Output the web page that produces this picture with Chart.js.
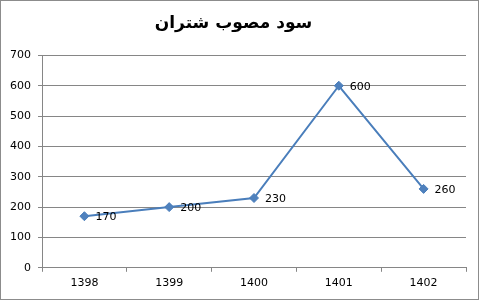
<!DOCTYPE html>
<html>
<head>
<meta charset="utf-8">
<script src="https://cdn.jsdelivr.net/npm/chart.js@4"></script>
<style>
  html, body { margin: 0; padding: 0; background: #fff; }
  #wrap { position: absolute; left: 0; top: 0; width: 477px; height: 298px; border: 1px solid #8c8c8c; }
</style>
</head>
<body>
<div id="wrap"><canvas id="lineChart" width="480" height="301"></canvas></div>
<script>
const years = ['1398', '1399', '1400', '1401', '1402'];
const profit = [170, 200, 230, 600, 260];
const chartTitle = 'سود مصوب شتران';

// Value labels drawn to the right of each point
const valueLabels = {
    id: 'valueLabels',
    afterDatasetsDraw(chart) {
        const ctx = chart.ctx;
        const meta = chart.getDatasetMeta(0);
        ctx.save();
        ctx.font = '11px "DejaVu Sans"';
        ctx.fillStyle = '#000';
        ctx.textAlign = 'left';
        ctx.textBaseline = 'middle';
        meta.data.forEach((pt, i) => {
            ctx.fillText(String(profit[i]), pt.x + 11, pt.y + 1);
        });
        ctx.restore();
    }
};

const ctx = document.getElementById('lineChart').getContext('2d');
const chart = new Chart(ctx, {
    type: 'line',
    data: {
        labels: years,
        datasets: [{
            data: profit,
            borderColor: '#4a7ebb',
            borderWidth: 2,
            backgroundColor: '#4f81bd',
            pointStyle: 'rectRot',
            pointRadius: 4.5,
            pointBorderWidth: 1,
            pointBorderColor: '#4a7ebb',
            tension: 0,
            fill: false
        }]
    },
    options: {
        responsive: false,
        animation: false,
        layout: { padding: { left: 0, right: 15, top: 0, bottom: 7 } },
        plugins: {
            legend: { display: false },
            tooltip: { enabled: false },
            title: {
                display: true,
                text: chartTitle,
                color: '#000',
                font: { family: 'DejaVu Sans', size: 17, weight: 'bold' },
                padding: { top: 12, bottom: 22 }
            }
        },
        scales: {
            x: {
                offset: true,
                grid: { display: true, drawOnChartArea: false, drawTicks: true, tickLength: 4, offset: true, color: '#868686' },
                border: { color: '#868686', width: 1 },
                ticks: { color: '#000', font: { family: 'DejaVu Sans', size: 11 }, padding: 5 }
            },
            y: {
                min: 0,
                max: 700,
                ticks: { stepSize: 100, color: '#000', font: { family: 'DejaVu Sans', size: 11 }, padding: 7 },
                grid: { color: '#868686', tickLength: 4 },
                border: { color: '#868686', width: 1 },
                afterFit(scale) { scale.width = 41; }
            }
        }
    },
    plugins: [valueLabels]
});
</script>
</body>
</html>
